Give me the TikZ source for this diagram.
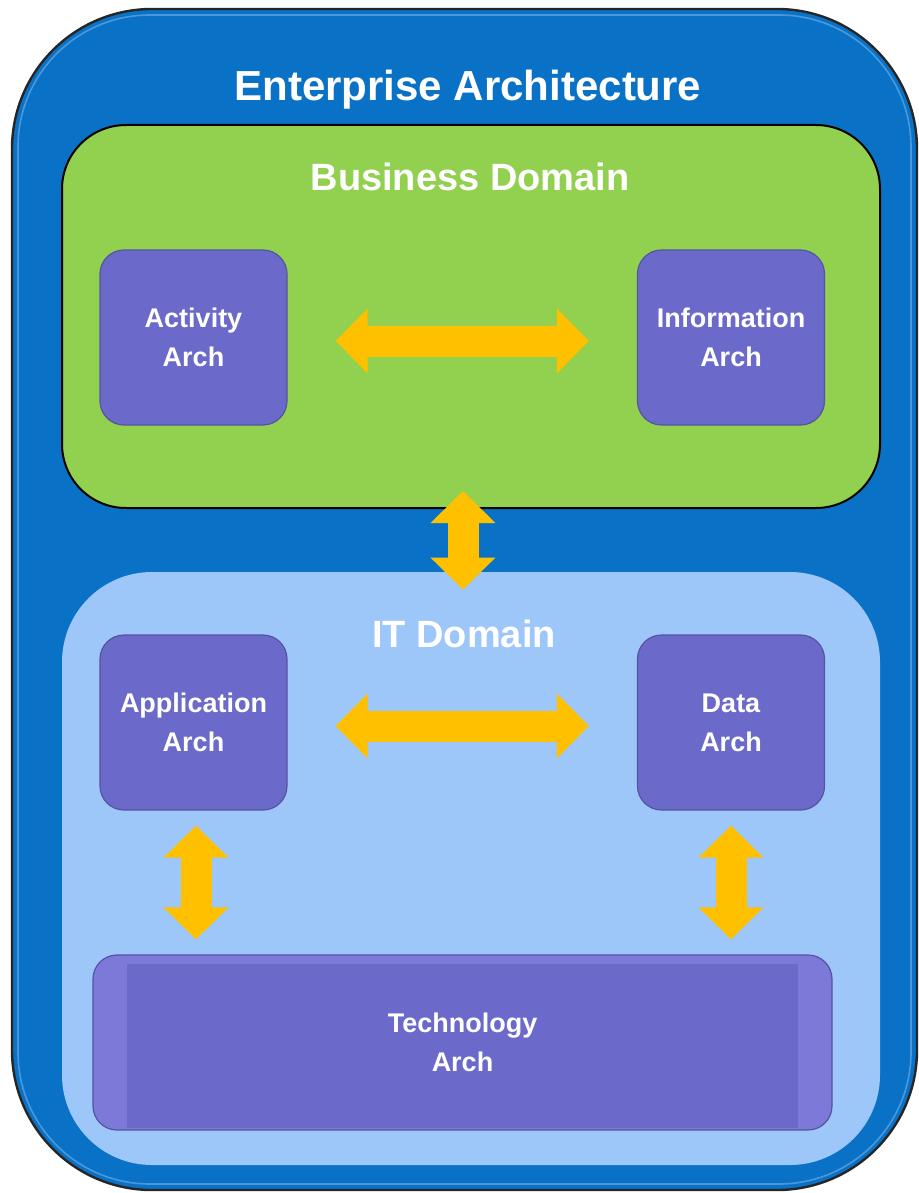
\documentclass[tikz,border=0pt]{standalone}
\usepackage{fontspec}
\setmainfont{Liberation Sans}
\usetikzlibrary{arrows.meta}

\definecolor{eablue}{HTML}{0A72C6}
\definecolor{eaedge}{HTML}{4A98DC}
\definecolor{bizgreen}{HTML}{92D050}
\definecolor{itblue}{HTML}{9DC6F9}
\definecolor{archpurple}{HTML}{6B69C9}
\definecolor{archlight}{HTML}{7C79D9}
\definecolor{linkgold}{HTML}{FFC000}

\begin{document}
\begin{tikzpicture}[x=0.5pt, y=-0.5pt,
    arch/.style={draw=archpurple!80!black, line width=0.6pt, fill=archpurple,
        rounded corners=12pt, minimum width=93.5pt, minimum height=87.5pt,
        text=white, align=center, font=\fontsize{13.5}{19.5}\selectfont\bfseries},
    heading/.style={text=white, font=\fontsize{19}{23}\selectfont\bfseries},
    link/.style={linkgold, line width=15.5pt,
        {Triangle[width=31.5pt,length=16pt]}-{Triangle[width=31.5pt,length=16pt]}}]

    \useasboundingbox[fill=white] (0,0) rectangle (919,1193);

    % outer frame
    \node[draw=black!85, line width=1.2pt, fill=eablue, rounded corners=70pt,
        minimum width=452.5pt, minimum height=590.5pt] (ea) at (464.5,599.5) {};
    \draw[eaedge, line width=0.8pt, rounded corners=66pt] (18,15) rectangle (911,1184);

    % the two domains
    \node[draw=black, line width=1pt, fill=bizgreen, rounded corners=32pt,
        minimum width=409pt, minimum height=191.5pt] (biz) at (471,316.5) {};
    \node[fill=itblue, rounded corners=45pt,
        minimum width=409pt, minimum height=296.5pt] (it) at (471,868.5) {};

    % architecture boxes
    \node[arch] (act) at (193.5,337.5) {Activity\\Arch};
    \node[arch] (info) at (731,337.5) {Information\\Arch};
    \node[arch] (app) at (193.5,722.5) {Application\\Arch};
    \node[arch] (data) at (731,722.5) {Data\\Arch};
    \node[arch, fill=archlight, rounded corners=12pt, minimum width=369.5pt] (tech) at (462.5,1042.5) {};
    \fill[archpurple] ([xshift=17.5pt,yshift=-5pt]tech.north west) rectangle ([xshift=-17.5pt,yshift=1.5pt]tech.south east);
    \node[text=white, align=center, font=\fontsize{13.5}{19.5}\selectfont\bfseries] at (tech) {Technology\\Arch};

    % links
    \draw[link, shorten <=24pt, shorten >=24pt] ([yshift=-1.75pt]act.east) -- ([yshift=-1.75pt]info.west);
    \draw[link, shorten <=24pt, shorten >=24pt] ([yshift=-1.75pt]app.east) -- ([yshift=-1.75pt]data.west);
    \draw[link, shorten <=-9pt, shorten >=-9pt] ([xshift=-4pt]biz.south) -- ([xshift=-4pt]it.north);
    \draw[link, shorten <=7.5pt, shorten >=7.5pt] ([xshift=1.25pt]app.south) -- ([xshift=1.25pt]app.south |- tech.north);
    \draw[link, shorten <=7.5pt, shorten >=7.5pt] (data.south) -- (data.south |- tech.north);

    % headings
    \node[heading, font=\fontsize{21}{25}\selectfont\bfseries] (title) at (468,90) {Enterprise Architecture};
    \node[heading] (bizlabel) at (470,177) {Business Domain};
    \node[heading] (itlabel) at (464,634) {IT Domain};
\end{tikzpicture}
\end{document}
